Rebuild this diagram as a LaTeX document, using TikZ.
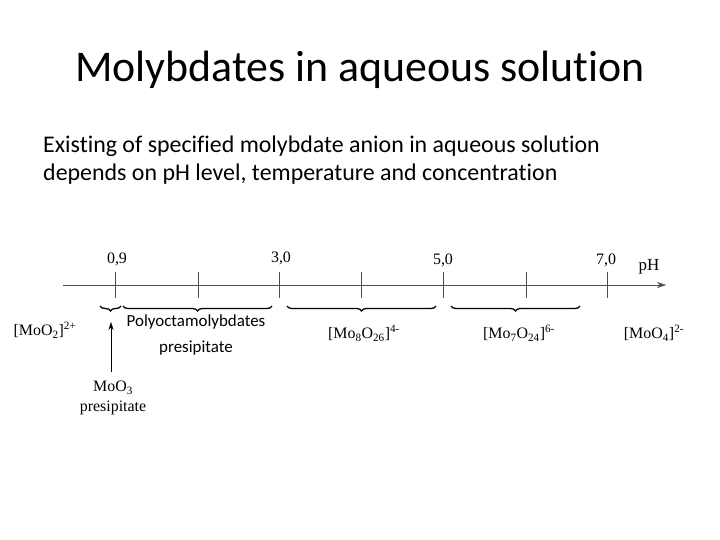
\documentclass[tikz,border=0pt]{standalone}
\usepackage{fontspec}
\setmainfont{Liberation Serif}
\newfontfamily\slidefont[Ligatures=NoCommon]{Carlito}
\usepackage{tikz}
\usetikzlibrary{arrows,arrows.meta,decorations.pathreplacing}

\begin{document}
\begin{tikzpicture}[x=1bp,y=-1bp]
\useasboundingbox (0,0) rectangle (720,540);
\tikzset{lbl/.style={font=\fontsize{16}{20}\selectfont,inner sep=1pt},
  brc/.style={decorate,decoration={brace,mirror,amplitude=5pt},line width=1.3pt}}
\def\tickline#1{(#1,272) -- (#1,298)}
% title and text
\node[anchor=base,font=\slidefont\fontsize{44}{50}\selectfont] (title) at (360,82) {Molybdates in aqueous solution};
\node[anchor=base west,font=\slidefont\fontsize{24}{28}\selectfont,inner sep=0pt] (line1) at (43,153) {Existing of specified molybdate anion in aqueous solution};
\node[anchor=base west,font=\slidefont\fontsize{24}{28}\selectfont,inner sep=0pt] (line2) at (43,181) {depends on pH level, temperature and concentration};
% axis
\draw[-{Stealth[length=9pt,width=6pt]},gray!60!black] (63,285) -- (666,285);
\foreach \x in {115,198,279,361,443,526,607}
  \draw[gray!60!black] \tickline{\x};
\node[lbl] (n09) at (117,259) {0,9};
\node[lbl] (n30) at (281,258) {3,0};
\node[lbl] (n50) at (443,260) {5,0};
\node[lbl] (n70) at (606,260) {7,0};
\node[lbl,font=\fontsize{17}{20}\selectfont] (ph) at (649,267) {pH};
% braces
\draw[brc] (100,306) -- (121,306);
\draw[brc] (123,306) -- (272,306);
\draw[brc] (287,306) -- (436,306);
\draw[brc] (451,306) -- (580,306);
\node[lbl] (moo2) at (45,330) {[MoO\textsubscript{2}]\textsuperscript{2+}};
\node[font=\slidefont\fontsize{17}{26}\selectfont,align=center] (poly) at (196,335) {Polyoctamolybdates\\presipitate};
\node[lbl] (mo8) at (364,333) {[Mo\textsubscript{8}O\textsubscript{26}]\textsuperscript{4-}};
\node[lbl] (mo7) at (519,333) {[Mo\textsubscript{7}O\textsubscript{24}]\textsuperscript{6-}};
\node[lbl] (moo4) at (654,333) {[MoO\textsubscript{4}]\textsuperscript{2-}};
\node[lbl,align=center] (moo3) at (113,398) {MoO\textsubscript{3}\\presipitate};
\coordinate (arrtip) at (111,322);
\draw[-{Stealth[length=8pt,width=5pt]},shorten <=8pt] (moo3.north -| arrtip) -- (arrtip);
\end{tikzpicture}
\end{document}
